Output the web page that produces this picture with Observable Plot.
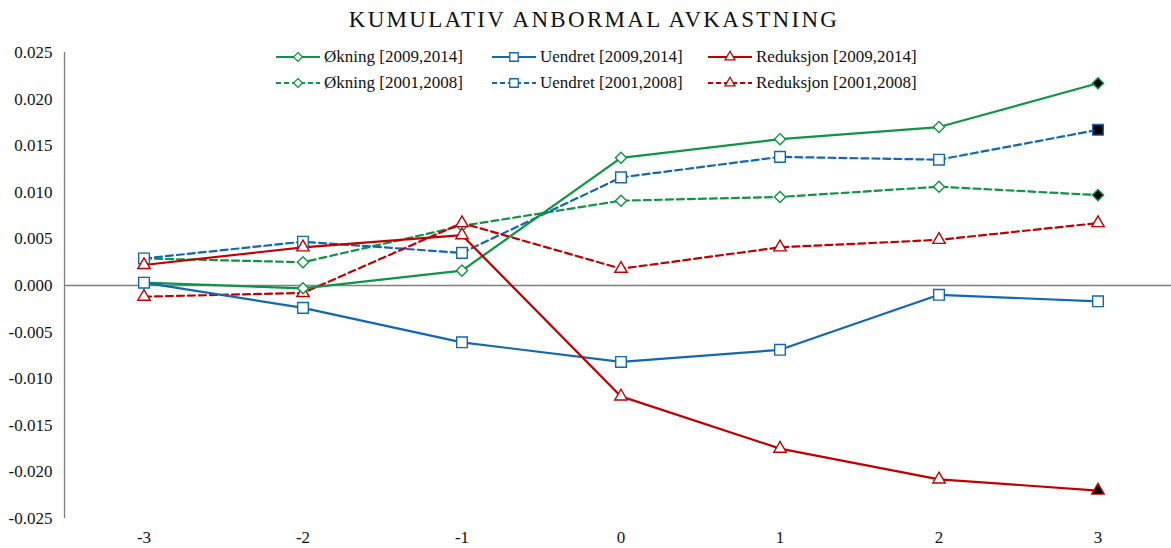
<!DOCTYPE html>
<html>
<head>
<meta charset="utf-8">
<script src="https://cdn.jsdelivr.net/npm/d3@7"></script>
<script src="https://cdn.jsdelivr.net/npm/@observablehq/plot@0.6"></script>
<style>
  body { margin: 0; background: #fff; font-family: "Liberation Serif", serif; }
  #wrap { position: relative; width: 1171px; height: 548px; overflow: hidden; }
  #title { position: absolute; top: 7px; left: 0; width: 1188px; text-align: center;
           font-size: 23px; letter-spacing: 2.3px; color: #111; }
  #legend { position: absolute; left: 0; top: 0; width: 1171px; height: 100px; pointer-events: none; }
  .item { position: absolute; display: flex; align-items: center; font-size: 17px; color: #111; height: 20px; white-space: nowrap; }
  .item svg { margin-right: 4px; }
</style>
</head>
<body>
<div id="wrap">
  <div id="title">KUMULATIV ANBORMAL AVKASTNING</div>
  <div id="chart"></div>
  <div id="legend"></div>
</div>
<script>
// Event days
const days = [-3, -2, -1, 0, 1, 2, 3];
const yTicks = [-0.025, -0.02, -0.015, -0.01, -0.005, 0, 0.005, 0.01, 0.015, 0.02, 0.025];

// Series names
const seriesNames = [
  "Økning [2009,2014]", "Uendret [2009,2014]", "Reduksjon [2009,2014]",
  "Økning [2001,2008]", "Uendret [2001,2008]", "Reduksjon [2001,2008]"
];

// Cumulative abnormal returns per series
const okning2009    = [0.0003, -0.0003, 0.0016, 0.0137, 0.0157, 0.0170, 0.0217];
const uendret2009   = [0.0003, -0.0024, -0.0061, -0.0082, -0.0069, -0.0010, -0.0017];
const reduksjon2009 = [0.0022, 0.0041, 0.0054, -0.0119, -0.0175, -0.0208, -0.0220];
const okning2001    = [0.0029, 0.0025, 0.0064, 0.0091, 0.0095, 0.0106, 0.0097];
const uendret2001   = [0.0029, 0.0047, 0.0035, 0.0116, 0.0138, 0.0135, 0.0167];
const reduksjon2001 = [-0.0012, -0.0008, 0.0067, 0.0018, 0.0041, 0.0049, 0.0067];

// Series whose last point is drawn with a solid black marker
const filledLast = ["Økning [2009,2014]", "Uendret [2001,2008]", "Økning [2001,2008]", "Reduksjon [2009,2014]"];

const green = "#0E9445", blue = "#1067B3", red = "#C00000";
const seriesDefs = [
  {name: seriesNames[0], values: okning2009,    color: green, symbol: "diamond2", dash: null},
  {name: seriesNames[1], values: uendret2009,   color: blue,  symbol: "square",   dash: null},
  {name: seriesNames[2], values: reduksjon2009, color: red,   symbol: "triangle", dash: null},
  {name: seriesNames[3], values: okning2001,    color: green, symbol: "diamond2", dash: "7,4"},
  {name: seriesNames[4], values: uendret2001,   color: blue,  symbol: "square",   dash: "7,4"},
  {name: seriesNames[5], values: reduksjon2001, color: red,   symbol: "triangle", dash: "7,4"}
];
const symR = {diamond2: 5.0, square: 6.0, triangle: 4.6};

const fontFam = "Liberation Serif";
const marks = [
  Plot.ruleY([0], {stroke: "#7f7f7f", strokeWidth: 1.5}),
  Plot.ruleX([-3.5], {y1: -0.025, y2: 0.025, stroke: "#7f7f7f", strokeWidth: 1.3}),
  Plot.axisY({ticks: yTicks, tickSize: 0, tickPadding: 12, tickFormat: d => d.toFixed(3), label: null,
               fontSize: 17, fill: "#111", fontFamily: fontFam}),
  Plot.axisX({ticks: days, tickSize: 0, tickPadding: 12, tickFormat: d => String(d), label: null,
              fontSize: 17, fill: "#111", fontFamily: fontFam})
];
// draw dashed first, then solid
const order = [3, 4, 5, 0, 1, 2];
for (const i of order) {
  const s = seriesDefs[i];
  const data = days.map((d, k) => ({x: d, y: s.values[k], last: k === days.length - 1}));
  marks.push(Plot.line(data, {x: "x", y: "y", stroke: s.color, strokeWidth: 2.2,
    strokeDasharray: s.dash || undefined}));
}
for (const i of order) {
  const s = seriesDefs[i];
  const data = days.map((d, k) => ({x: d, y: s.values[k], last: k === days.length - 1}));
  const filled = filledLast.includes(s.name);
  marks.push(Plot.dot(data, {x: "x", y: "y", symbol: () => s.symbol, r: symR[s.symbol],
    stroke: s.color, strokeWidth: 1.4,
    fill: d => (d.last && filled) ? "#000" : "#fff"}));
}

const chart = Plot.plot({
  width: 1171,
  height: 548,
  marginTop: 52,
  marginBottom: 30,
  marginLeft: 64,
  marginRight: 0,
  x: {type: "linear", domain: [-3.5, 3.5], range: [64, 1177], label: null},
  y: {domain: [-0.025, 0.025], range: [518, 52], label: null},
  style: {fontFamily: fontFam, background: "transparent"},
  marks
});
document.getElementById("chart").appendChild(chart);

// Legend
const legend = document.getElementById("legend");
const colX = [276, 492, 708];
const rowY = [47, 73];
seriesDefs.forEach((s, i) => {
  const col = i % 3, row = Math.floor(i / 3);
  const div = document.createElement("div");
  div.className = "item";
  div.style.left = colX[col] + "px";
  div.style.top = rowY[row] + "px";
  const w = 44, h = 16, cx = 22, cy = 8;
  const sym = d3.symbol().type(
    s.symbol === "diamond2" ? d3.symbolDiamond2 : s.symbol === "square" ? d3.symbolSquare : d3.symbolTriangle
  ).size(Math.PI * Math.pow(symR[s.symbol] * 0.8, 2))();
  div.innerHTML =
    `<svg width="${w}" height="${h}"><line x1="0" x2="${w}" y1="${cy}" y2="${cy}" stroke="${s.color}" stroke-width="2.2" ${s.dash ? `stroke-dasharray="5,3"` : ""}/>` +
    `<path d="${sym}" transform="translate(${cx},${cy})" fill="#fff" stroke="${s.color}" stroke-width="1.3"/></svg>` +
    `<span>${s.name}</span>`;
  legend.appendChild(div);
});
</script>
</body>
</html>
